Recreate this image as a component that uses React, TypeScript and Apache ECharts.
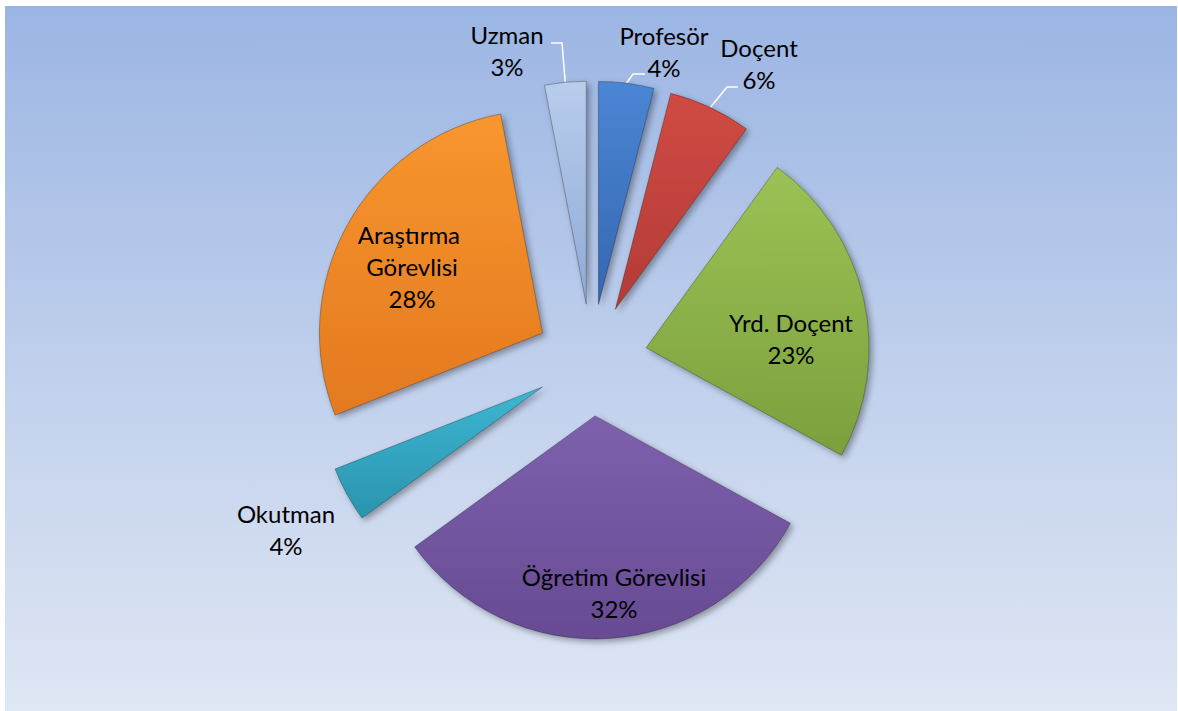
import React, { useEffect, useRef } from 'react';
import * as echarts from 'echarts';

const categories = ['Profesör', 'Doçent', 'Yrd. Doçent', 'Öğretim Görevlisi', 'Okutman', 'Araştırma Görevlisi', 'Uzman'];
const percentages = [4, 6, 23, 32, 4, 28, 3];
const colorsTop = ['#4a86d4', '#d04a44', '#9cc255', '#7e60ad', '#3db6d2', '#f8962f', '#b9cdec'];
const colorsBottom = ['#3566b0', '#b33b36', '#7ba03d', '#674b93', '#2a94ae', '#e3791f', '#8eaad6'];

// layout / styling only
const PIE_CENTER: [number, number] = [591.5, 360];
const PIE_RADIUS = 223;
const EXPLODE = 56;
const labelCenters: Record<string, [number, number]> = {
  'Profesör': [664, 51],
  'Doçent': [759, 63],
  'Yrd. Doçent': [791, 338],
  'Öğretim Görevlisi': [614, 592],
  'Okutman': [286, 529],
  'Araştırma Görevlisi': [412, 266],
  'Uzman': [507, 50],
};
const leaderTail: Record<string, [number, number][]> = {
  'Profesör': [[633, 74], [645, 74]],
  'Doçent': [[727, 87], [738, 87]],
  'Uzman': [[562, 43], [551, 43]],
};
const insideLabels = ['Yrd. Doçent', 'Öğretim Görevlisi', 'Araştırma Görevlisi'];

export default function App() {
  const ref = useRef<HTMLDivElement>(null);
  useEffect(() => {
    if (!ref.current) return;
    const chart = echarts.init(ref.current, null, { renderer: 'svg' });
    const total = percentages.reduce((a, b) => a + b, 0);

    const series = categories.map((cat, j) => {
      const before = percentages.slice(0, j).reduce((a, b) => a + b, 0);
      const mid = ((before + percentages[j] / 2) / total) * Math.PI * 2;
      const center = [
        PIE_CENTER[0] + EXPLODE * Math.sin(mid),
        PIE_CENTER[1] - EXPLODE * Math.cos(mid),
      ];
      const data = categories.map((name, i) => {
        const visible = i === j;
        return {
          name,
          value: percentages[i],
          itemStyle: visible
            ? {
                color: new echarts.graphic.LinearGradient(0, 0, 0, 1, [
                  { offset: 0, color: colorsTop[i] },
                  { offset: 1, color: colorsBottom[i] },
                ]),
                borderColor: 'rgba(0,0,0,0.28)',
                borderWidth: 1,
                shadowBlur: 6,
                shadowOffsetX: 3,
                shadowOffsetY: 3,
                shadowColor: 'rgba(0,0,0,0.35)',
              }
            : {
                color: 'rgba(0,0,0,0)',
                borderWidth: 0,
                shadowBlur: 0,
                shadowColor: 'rgba(0,0,0,0)',
              },
          label: visible
            ? {
                show: true,
                position: insideLabels.includes(name) ? 'inside' : 'outside',
                width: name === 'Araştırma Görevlisi' ? 150 : undefined,
                overflow: name === 'Araştırma Görevlisi' ? 'break' : undefined,
              }
            : { show: false },
          labelLine: { show: visible && !!leaderTail[name] },
        };
      });
      return {
        type: 'pie',
        name: cat,
        center,
        radius: [0, PIE_RADIUS],
        startAngle: 90,
        clockwise: true,
        avoidLabelOverlap: false,
        silent: true,
        emphasis: { disabled: true },
        label: {
          color: '#000000',
          fontFamily: 'Lato',
          fontSize: 24,
          lineHeight: 32,
          align: 'center',
          formatter: (p: any) => `${p.name}\n${Math.round(p.percent)}%`,
        },
        labelLine: {
          lineStyle: { color: '#ffffff', width: 1.5 },
        },
        labelLayout: (params: any) => {
          const name = categories[params.dataIndex];
          if (params.dataIndex !== j) return {};
          const c = labelCenters[name];
          const res: any = { x: c[0], y: c[1], align: 'center', verticalAlign: 'middle' };
          const tail = leaderTail[name];
          if (tail && params.labelLinePoints) {
            res.labelLinePoints = [params.labelLinePoints[0], tail[0], tail[1]];
          }
          return res;
        },
        data,
      };
    });

    chart.setOption({
      animation: false,
      backgroundColor: '#ffffff',
      graphic: [
        {
          type: 'rect',
          z: -10,
          silent: true,
          shape: { x: 5, y: 6, width: 1172, height: 705 },
          style: {
            fill: new echarts.graphic.LinearGradient(0, 0, 0, 1, [
              { offset: 0, color: '#9bb5e3' },
              { offset: 0.5, color: '#bfcfec' },
              { offset: 1, color: '#dfe6f4' },
            ]),
          },
        },
      ],
      series,
    });
    return () => chart.dispose();
  }, []);
  return (
    <div
      ref={ref}
      style={{ position: 'absolute', left: 0, top: 0, width: 1178, height: 711 }}
    />
  );
}
